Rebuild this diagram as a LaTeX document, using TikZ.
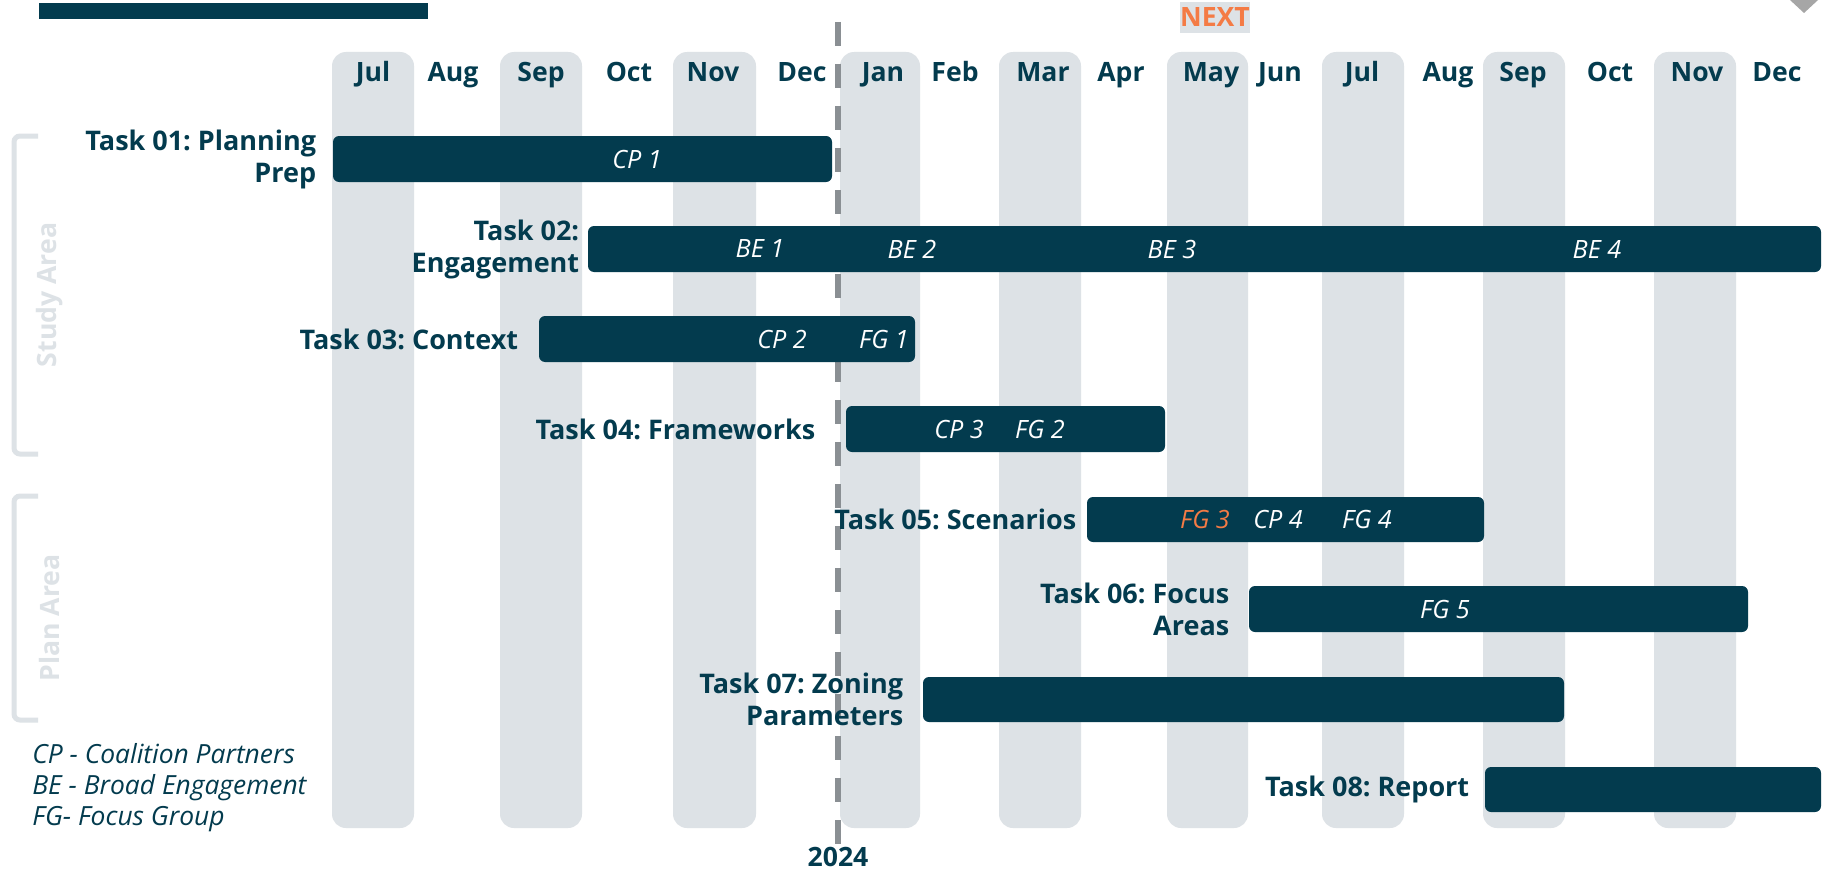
\documentclass[tikz,border=0pt]{standalone}
\usepackage{fontspec}
\setmainfont{Open Sans}
\usepackage{tikz}
\usetikzlibrary{positioning, fit}
\frenchspacing
\definecolor{plandark}{HTML}{033B4E}
\definecolor{planband}{HTML}{DDE2E6}
\definecolor{plandash}{HTML}{8A8F93}
\definecolor{planorange}{HTML}{F47B45}
\tikzset{
  colband/.style={fill=planband, rounded corners=7pt},
  monthlbl/.style={font=\fontsize{13.3}{16}\selectfont\bfseries, text=plandark,
                   anchor=base, inner sep=0pt},
  taskbar/.style={fill=plandark, rounded corners=3pt, inner sep=0pt},
  tasklbl/.style={font=\fontsize{13.5}{16}\selectfont\bfseries, text=plandark,
                  align=right, inner sep=0pt},
  barlbl/.style={font=\fontsize{12.6}{14}\selectfont\itshape, text=white, inner sep=0pt},
  keylbl/.style={font=\fontsize{13.2}{15}\selectfont\itshape, text=plandark,
                 anchor=base west, inner sep=0pt},
  phasebrk/.style={line width=2.5pt, draw=planband, rounded corners=3pt},
  phaselbl/.style={font=\fontsize{13.3}{16}\selectfont\bfseries, text=planband,
                   rotate=90, inner sep=0pt},
  yearline/.style={line width=3pt, draw=plandash, dash pattern=on 12pt off 9pt},
  nexttag/.style={font=\fontsize{13.3}{16}\selectfont\bfseries, text=planorange,
                  fill=planband, minimum width=35pt, minimum height=15.5pt, inner sep=0pt},
}

\begin{document}
\begin{tikzpicture}[x=0.5pt, y=-0.5pt, node distance=8pt]
  \useasboundingbox (0,0) rectangle (1829,872);
  \fill[white] (0,0) rectangle (1829,872);
  \fill[plandark] (39,3) rectangle (428,19);
  \fill[gray!70] (1790,0) -- (1804,13) -- (1818,0) -- cycle;

  % month columns
  \fill[colband] (332,52) rectangle (414,828);
  \fill[colband] (500,52) rectangle (582,828);
  \fill[colband] (673,52) rectangle (756,828);
  \fill[colband] (840,52) rectangle (920,828);
  \fill[colband] (999,52) rectangle (1081,828);
  \fill[colband] (1167,52) rectangle (1248,828);
  \fill[colband] (1322,52) rectangle (1404,828);
  \fill[colband] (1483,52) rectangle (1565,828);
  \fill[colband] (1654,52) rectangle (1736,828);

  \node[monthlbl] (mjul) at (373,82) {Jul};
  \node[monthlbl] (maug) at (453,82) {Aug};
  \node[monthlbl] (msep) at (541,82) {Sep};
  \node[monthlbl] (moct) at (629,82) {Oct};
  \node[monthlbl] (mnov) at (713,82) {Nov};
  \node[monthlbl] (mdec) at (802,82) {Dec};
  \node[monthlbl] (njan) at (883,82) {Jan};
  \node[monthlbl] (nfeb) at (955,82) {Feb};
  \node[monthlbl] (nmar) at (1043,82) {Mar};
  \node[monthlbl] (napr) at (1121,82) {Apr};
  \node[monthlbl] (nmay) at (1211,82) {May};
  \node[monthlbl] (njun) at (1280,82) {Jun};
  \node[monthlbl] (njul) at (1362,82) {Jul};
  \node[monthlbl] (naug) at (1448,82) {Aug};
  \node[monthlbl] (nsep) at (1523,82) {Sep};
  \node[monthlbl] (noct) at (1610,82) {Oct};
  \node[monthlbl] (nnov) at (1697,82) {Nov};
  \node[monthlbl] (ndec) at (1777,82) {Dec};

  \node[nexttag] (next) at (1215,17.5) {NEXT};

  \coordinate (ytop) at (838,22);
  \coordinate (ybot) at (838,844);
  \draw[yearline] (ytop) -- (ybot);
  \node[monthlbl, anchor=north, below=1.5pt of ybot] (year) {2024};

  % phases
  \draw[phasebrk] (38,136) -- (14,136) -- (14,454) -- (38,454);
  \draw[phasebrk] (38,496) -- (14,496) -- (14,720) -- (38,720);
  \node[phaselbl] (study) at (50,295) {Study Area};
  \node[phaselbl] (plan) at (50,618) {Plan Area};

  % tasks
  \node[taskbar, fit={(333,136) (832,182)}] (t1bar) {};
  \node[taskbar, fit={(588,226) (1821,272)}] (t2bar) {};
  \node[taskbar, fit={(539,316) (915,362)}] (t3bar) {};
  \node[taskbar, fit={(846,406) (1165,452)}] (t4bar) {};
  \node[taskbar, fit={(1087,497) (1484,542)}] (t5bar) {};
  \node[taskbar, fit={(1249,586) (1748,632)}] (t6bar) {};
  \node[taskbar, fit={(923,677) (1564,722)}] (t7bar) {};
  \node[taskbar, fit={(1485,767) (1821,812)}] (t8bar) {};

  \node[tasklbl, left=8pt of t1bar] (t1lbl) {Task 01: Planning\\Prep};
  \node[tasklbl, left=4pt of t2bar] (t2lbl) {Task 02:\\Engagement};
  \node[tasklbl, left=10pt of t3bar] (t3lbl) {Task 03: Context};
  \node[tasklbl, left=15pt of t4bar] (t4lbl) {Task 04: Frameworks};
  \node[tasklbl, left=5pt of t5bar] (t5lbl) {Task 05: Scenarios};
  \node[tasklbl, left=9.5pt of t6bar] (t6lbl) {Task 06: Focus\\Areas};
  \node[tasklbl, left=9.5pt of t7bar] (t7lbl) {Task 07: Zoning\\Parameters};
  \node[tasklbl, left=7.5pt of t8bar] (t8lbl) {Task 08: Report};

  \node[barlbl] (cp1) at (637,159) {CP 1};
  \node[barlbl] (be1) at (760,249) {BE 1};
  \node[barlbl] (be2) at (912,249) {BE 2};
  \node[barlbl] (be3) at (1172,249) {BE 3};
  \node[barlbl] (be4) at (1597,249) {BE 4};
  \node[barlbl] (cp2) at (782,339) {CP 2};
  \node[barlbl] (fg1) at (884,339) {FG 1};
  \node[barlbl] (cp3) at (959,429) {CP 3};
  \node[barlbl] (fg2) at (1040,429) {FG 2};
  \node[barlbl, text=planorange] (fg3) at (1205,519) {FG 3};
  \node[barlbl] (cp4) at (1278,519) {CP 4};
  \node[barlbl] (fg4) at (1367,519) {FG 4};
  \node[barlbl] (fg5) at (1445,609) {FG 5};

  % key
  \node[keylbl] (keycp) at (32,763) {CP - Coalition Partners};
  \node[keylbl] (keybe) at (32,794) {BE - Broad Engagement};
  \node[keylbl] (keyfg) at (32,825) {FG- Focus Group};
\end{tikzpicture}
\end{document}
